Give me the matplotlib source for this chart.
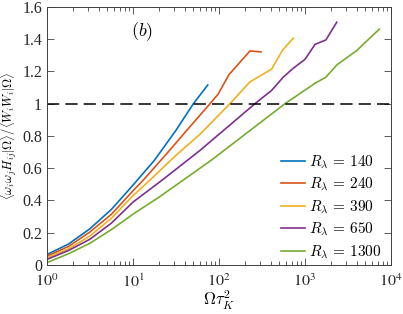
import math
import matplotlib
matplotlib.use("Agg")
import matplotlib.pyplot as plt
from matplotlib.ticker import FuncFormatter, LogLocator, NullFormatter

plt.rcParams['mathtext.fontset'] = 'cm'
plt.rcParams['font.family'] = ['Liberation Serif', 'DejaVu Serif']

# data
x140 = [1, 1.78, 3.16, 5.62, 10, 17.8, 31.6, 50.4, 74]
y140 = [0.065, 0.13, 0.225, 0.345, 0.495, 0.65, 0.835, 1.0, 1.116]

x240 = [1, 1.78, 3.16, 5.62, 10, 13.2, 25.1, 44.7, 78.6, 97.3, 130.7, 229, 308]
y240 = [0.055, 0.115, 0.205, 0.315, 0.46, 0.527, 0.695, 0.85, 1.0, 1.058, 1.18, 1.327, 1.321]

x390 = [1, 1.78, 3.16, 5.62, 10, 15.8, 31.6, 60, 134, 229, 410, 550, 731]
y390 = [0.045, 0.10, 0.18, 0.29, 0.43, 0.527, 0.68, 0.81, 1.0, 1.135, 1.215, 1.333, 1.406]

x650 = [1, 1.78, 3.16, 5.62, 10, 21.9, 60, 262, 410, 560, 731, 1000, 1310, 1750, 2340]
y650 = [0.035, 0.09, 0.16, 0.26, 0.39, 0.527, 0.71, 1.0, 1.083, 1.165, 1.22, 1.275, 1.368,
        1.395, 1.505]

x1300 = [1, 1.78, 3.16, 5.62, 10, 20, 38.5, 82, 585, 1310, 1750, 2340, 3985, 7310]
y1300 = [0.015, 0.07, 0.135, 0.22, 0.315, 0.42, 0.527, 0.651, 1.0, 1.127, 1.164, 1.24,
         1.329, 1.462]

series = [(x140, y140, '140'), (x240, y240, '240'), (x390, y390, '390'),
          (x650, y650, '650'), (x1300, y1300, '1300')]
colors = ['#0072BD', '#D95319', '#EDB120', '#7E2F8E', '#77AC30']

fig = plt.figure(figsize=(4.03, 3.14), dpi=100)
ax = fig.add_axes([0.1166, 0.156, 0.8536, 0.822])

for (xs, ys, lab), c in zip(series, colors):
    ax.plot(xs, ys, color=c, lw=1.2, label=r'$R_\lambda\, =\, %s$' % lab)

ax.axhline(1.0, color='k', lw=1.1, ls=(0, (8, 4)))

ax.set_xscale('log')
ax.set_xlim(1, 1e4)
ax.set_ylim(0, 1.6)
ax.set_yticks([0, 0.2, 0.4, 0.6, 0.8, 1.0, 1.2, 1.4, 1.6])
ax.yaxis.set_major_formatter(FuncFormatter(lambda v, p: '%g' % v))
ax.xaxis.set_major_locator(LogLocator(base=10, numticks=10))
ax.xaxis.set_minor_locator(LogLocator(base=10, subs=range(2, 10), numticks=20))
ax.xaxis.set_minor_formatter(NullFormatter())
ax.xaxis.set_major_formatter(FuncFormatter(lambda v, p: r'$10^{%d}$' % round(math.log10(v))))

ax.tick_params(which='both', direction='in', top=True, right=True,
               colors='#404040', labelcolor='#262626', labelsize=11.5, width=0.6)
ax.tick_params(which='major', length=5)
ax.tick_params(which='minor', length=3)
ax.tick_params(axis='x', pad=6)
for lbl in ax.get_xticklabels():
    lbl.set_math_fontfamily('stix')
for s in ax.spines.values():
    s.set_color('#404040')
    s.set_linewidth(0.7)

ax.set_xlabel(r'$\Omega\tau_K^2$', fontsize=12, labelpad=-1)
ax.set_ylabel(r'$\langle\omega_i\omega_j H_{ij}|\Omega\rangle/\langle W_i W_i|\Omega\rangle$',
              fontsize=9, labelpad=2)

ax.text(12.6, 1.447, r'$(b)$', fontsize=13, ha='center', va='center')

leg = ax.legend(loc='lower right', frameon=False, fontsize=11, handlelength=1.6,
                handletextpad=0.25, labelspacing=0.35, borderaxespad=0.2,
                bbox_to_anchor=(1.0, -0.02))

fig.savefig('out.png', dpi=100)
